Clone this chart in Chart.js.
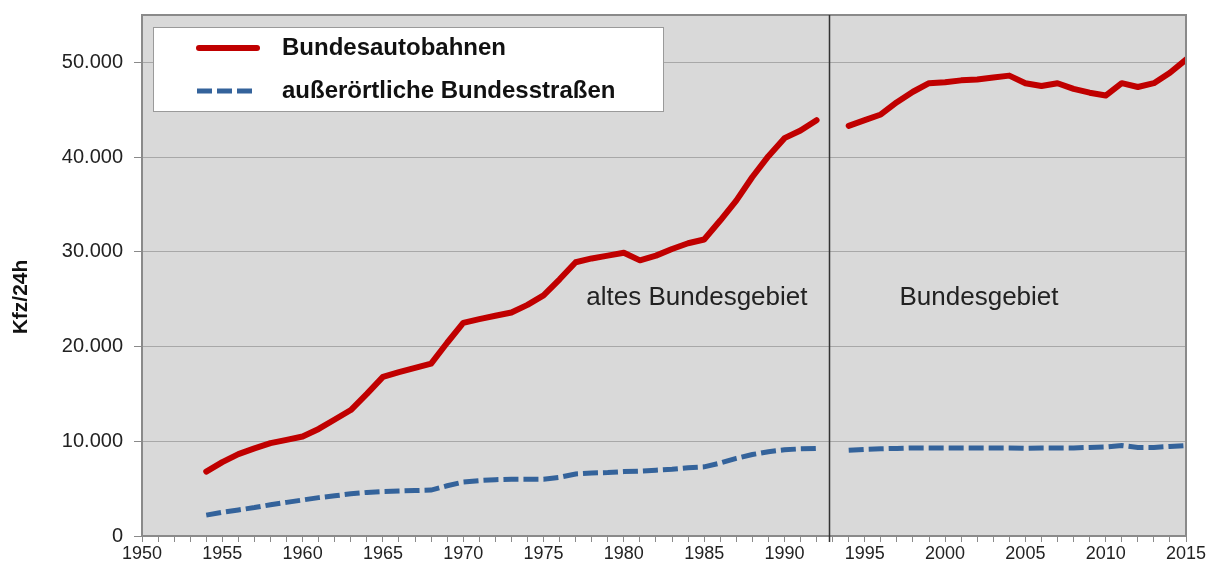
<!DOCTYPE html>
<html>
<head>
<meta charset="utf-8">
<script src="https://cdn.jsdelivr.net/npm/chart.js@4/dist/chart.umd.min.js"></script>
<style>
  body { margin: 0; background: #fff; }
  #wrap { width: 1213px; height: 568px; }
</style>
</head>
<body>
<div id="wrap"><canvas id="verkehrChart" width="1213" height="568"></canvas></div>
<script>
var years = [1954, 1955, 1956, 1957, 1958, 1959, 1960, 1961, 1962, 1963,
  1964, 1965, 1966, 1967, 1968, 1969, 1970, 1971, 1972, 1973,
  1974, 1975, 1976, 1977, 1978, 1979, 1980, 1981, 1982, 1983,
  1984, 1985, 1986, 1987, 1988, 1989, 1990, 1991, 1992, 1993,
  1994, 1995, 1996, 1997, 1998, 1999, 2000, 2001, 2002, 2003,
  2004, 2005, 2006, 2007, 2008, 2009, 2010, 2011, 2012, 2013,
  2014, 2015];

// Kfz/24h, 1993 = Lücke (Wechsel altes Bundesgebiet -> Bundesgebiet)
var autobahnen = [6800, 7800, 8650, 9250, 9800, 10150, 10500, 11300, 12300, 13300,
  15000, 16800, 17300, 17750, 18200, 20400, 22500, 22900, 23250, 23600,
  24400, 25400, 27100, 28900, 29300, 29600, 29900, 29100, 29600, 30300,
  30900, 31300, 33300, 35400, 37900, 40100, 42000, 42800, 43900, null,
  43300, 43900, 44500, 45800, 46900, 47800, 47900, 48100, 48200, 48400,
  48600, 47800, 47500, 47800, 47200, 46800, 46500, 47800, 47400, 47800,
  48900, 50300];

var bundesstrassen = [2200, 2500, 2750, 3000, 3300, 3550, 3800, 4050, 4250, 4450,
  4600, 4700, 4750, 4800, 4850, 5300, 5700, 5850, 5950, 6000,
  6000, 6000, 6200, 6550, 6650, 6700, 6800, 6850, 6950, 7050,
  7200, 7300, 7700, 8200, 8600, 8900, 9100, 9200, 9250, null,
  9050, 9150, 9200, 9250, 9300, 9300, 9300, 9300, 9300, 9300,
  9300, 9250, 9300, 9300, 9300, 9350, 9400, 9550, 9350, 9350,
  9450, 9550];

var yTicks = [0, 10000, 20000, 30000, 40000, 50000];
var seriesNames = ['Bundesautobahnen', 'außerörtliche Bundesstraßen'];
var regionLabels = ['altes Bundesgebiet', 'Bundesgebiet'];
var dividerYear = 1992.8;

var FONT = '"Liberation Sans", Arial, sans-serif';
var RED = '#c00000';
var BLUE = '#34639b';

function points(values) {
  return years.map(function(y, i) { return { x: y, y: values[i] }; });
}

function deNumber(v) {
  return String(v).replace(/\B(?=(\d{3})+(?!\d))/g, '.');
}

// grauer Hintergrund, Rahmen, Trennlinie, Beschriftung, Legende
var decor = {
  id: 'decor',
  beforeDraw: function(chart) {
    var a = chart.chartArea, ctx = chart.ctx;
    ctx.save();
    ctx.fillStyle = '#d9d9d9';
    ctx.fillRect(a.left, a.top, a.right - a.left, a.bottom - a.top);
    ctx.restore();
  },
  afterDraw: function(chart) {
    var a = chart.chartArea, ctx = chart.ctx;
    var xs = chart.scales.x, ys = chart.scales.y;
    ctx.save();

    // Rahmen
    ctx.strokeStyle = '#8a8a8a';
    ctx.lineWidth = 2;
    ctx.strokeRect(a.left, a.top, a.right - a.left, a.bottom - a.top);

    // Trennlinie 1993
    var dx = Math.round(xs.getPixelForValue(dividerYear)) + 0.5;
    ctx.strokeStyle = '#333';
    ctx.lineWidth = 1.5;
    ctx.beginPath();
    ctx.moveTo(dx, a.top);
    ctx.lineTo(dx, a.bottom + 6);
    ctx.stroke();

    // Gebietsbezeichnungen
    var ty = ys.getPixelForValue(25100);
    ctx.fillStyle = '#222';
    ctx.font = '26px ' + FONT;
    ctx.textBaseline = 'middle';
    ctx.textAlign = 'right';
    ctx.fillText(regionLabels[0], dx - 22, ty);
    ctx.textAlign = 'left';
    ctx.fillText(regionLabels[1], dx + 70, ty);

    // Achsentitel
    ctx.save();
    ctx.translate(21, 297);
    ctx.rotate(-Math.PI / 2);
    ctx.textAlign = 'center';
    ctx.font = 'bold 21px ' + FONT;
    ctx.fillStyle = '#111';
    ctx.fillText('Kfz/24h', 0, 0);
    ctx.restore();

    // Legende
    var lx = a.left + 11, ly = a.top + 12;
    ctx.fillStyle = '#fff';
    ctx.fillRect(lx, ly, 510, 84);
    ctx.strokeStyle = '#9a9a9a';
    ctx.lineWidth = 1;
    ctx.strokeRect(lx + 0.5, ly + 0.5, 510, 84);

    ctx.lineWidth = 6;
    ctx.strokeStyle = RED;
    ctx.lineCap = 'round';
    ctx.beginPath();
    ctx.moveTo(lx + 46, ly + 21);
    ctx.lineTo(lx + 104, ly + 21);
    ctx.stroke();

    ctx.lineWidth = 5;
    ctx.strokeStyle = BLUE;
    ctx.lineCap = 'butt';
    ctx.setLineDash([15, 5]);
    ctx.beginPath();
    ctx.moveTo(lx + 44, ly + 64);
    ctx.lineTo(lx + 100, ly + 64);
    ctx.stroke();
    ctx.setLineDash([]);

    ctx.fillStyle = '#111';
    ctx.font = 'bold 24px ' + FONT;
    ctx.textAlign = 'left';
    ctx.fillText(seriesNames[0], lx + 129, ly + 21);
    ctx.fillText(seriesNames[1], lx + 129, ly + 64);
    ctx.restore();
  }
};

var ctx = document.getElementById('verkehrChart').getContext('2d');
var chart = new Chart(ctx, {
  type: 'line',
  data: {
    datasets: [
      {
        label: seriesNames[0],
        data: points(autobahnen),
        borderColor: RED,
        borderWidth: 6,
        borderCapStyle: 'round',
        borderJoinStyle: 'round',
        pointRadius: 0,
        spanGaps: false,
        tension: 0
      },
      {
        label: seriesNames[1],
        data: points(bundesstrassen),
        borderColor: BLUE,
        borderWidth: 5,
        borderDash: [15, 5],
        pointRadius: 0,
        spanGaps: false,
        tension: 0
      }
    ]
  },
  options: {
    responsive: false,
    animation: false,
    layout: { padding: { top: 15, right: 27, left: 0, bottom: 0 } },
    plugins: { legend: { display: false }, tooltip: { enabled: false } },
    scales: {
      x: {
        type: 'linear',
        min: 1950,
        max: 2015,
        afterFit: function(s) { s.height = 32; },
        border: { display: false },
        grid: { drawOnChartArea: false, drawTicks: true, tickLength: 6, color: '#8a8a8a' },
        ticks: {
          stepSize: 1,
          autoSkip: false,
          maxRotation: 0,
          padding: 1,
          color: '#222',
          font: { family: FONT, size: 18 },
          callback: function(v) { return v % 5 === 0 ? String(v) : ''; }
        }
      },
      y: {
        min: 0,
        max: 55000,
        afterFit: function(s) {
          s.width = 142;
          s.paddingTop = 0;
          s.paddingBottom = 0;
        },
        afterBuildTicks: function(s) {
          s.ticks = yTicks.map(function(v) { return { value: v }; });
        },
        border: { display: false },
        grid: { color: '#a8a8a8', lineWidth: 1, tickLength: 8, tickColor: '#8a8a8a' },
        ticks: {
          padding: 11,
          color: '#222',
          font: { family: FONT, size: 20 },
          callback: function(v) { return deNumber(v); }
        }
      }
    }
  },
  plugins: [decor]
});
</script>
</body>
</html>
